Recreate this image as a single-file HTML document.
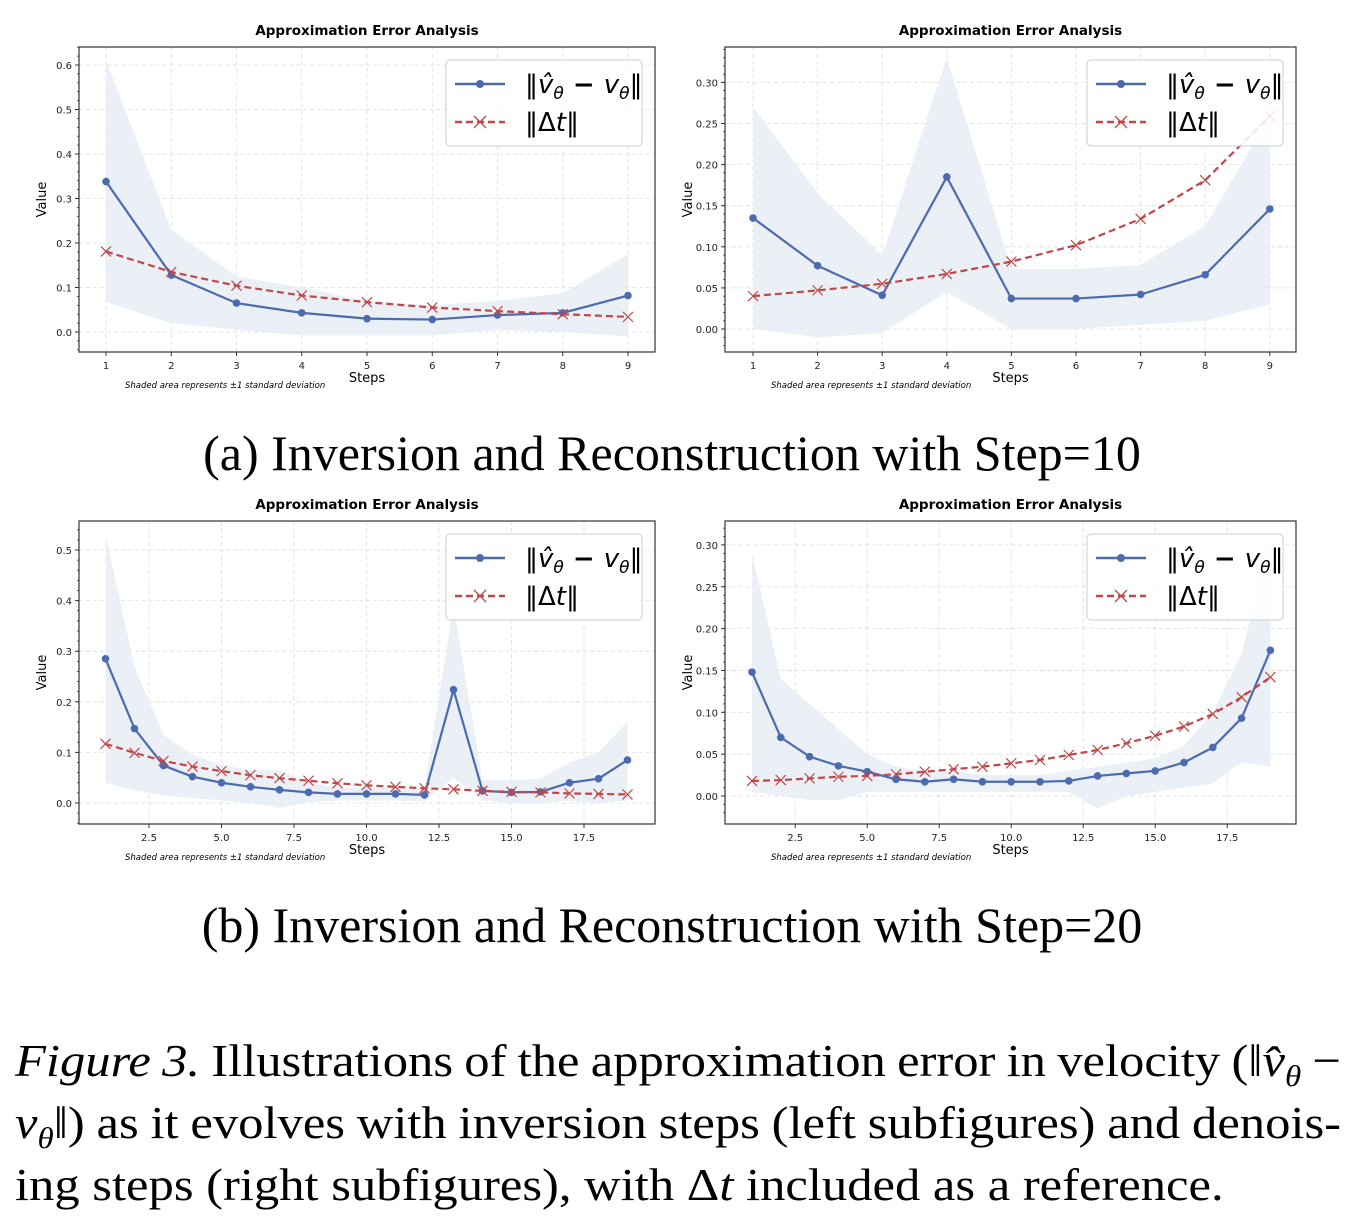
<!DOCTYPE html>
<html><head><meta charset="utf-8"><style>
body{margin:0;background:#fff;width:1358px;height:1218px;overflow:hidden;position:relative;font-family:"DejaVu Sans","Liberation Sans",sans-serif}
.cap{position:absolute;font-family:"Liberation Serif",serif;color:#000;white-space:nowrap}
.ln{display:block;height:62px;white-space:nowrap}
.ln span.in{display:inline-block;white-space:nowrap}
.sb{font-size:30px;position:relative;top:10px;line-height:0}
</style></head><body>
<svg id="fig" width="1358" height="960" style="position:absolute;left:0;top:0"></svg>
<div class="cap" style="left:0;width:1344px;text-align:center;top:424px;font-size:50px">(a) Inversion and Reconstruction with Step=10</div>
<div class="cap" style="left:0;width:1344px;text-align:center;top:896px;font-size:50px">(b) Inversion and Reconstruction with Step=20</div>
<div class="cap" id="figcap" style="left:15px;top:1030px;font-size:46px;line-height:62px;transform:scaleX(1.1);transform-origin:0 0">
<span class="ln"><span class="in fit"><i>Figure 3.</i> Illustrations of the approximation error in velocity (‖<i>v̂</i><span class="sb"><i>θ</i></span> −</span></span>
<span class="ln"><span class="in fit"><i>v</i><span class="sb"><i>θ</i></span>‖) as it evolves with inversion steps (left subfigures) and denois-</span></span>
<span class="ln"><span class="in">ing steps (right subfigures), with Δ<i>t</i> included as a reference.</span></span>
</div>
<script>
document.querySelectorAll('#figcap .fit').forEach(el=>{
  const target=1326/1.1;
  const w=el.getBoundingClientRect().width/1.1;
  const n=(el.textContent.match(/ /g)||[]).length;
  el.style.wordSpacing=((target-w)/n)+'px';
});
// chart A (top-left)
const xA=[1,2,3,4,5,6,7,8,9];
const vA=[.338,.128,.065,.043,.030,.028,.038,.043,.082];
const dA=[.181,.135,.104,.082,.067,.055,.047,.040,.034];
const upA=[.61,.23,.125,.10,.07,.06,.07,.087,.175];
const loA=[.067,.02,.005,-.008,-.008,-.008,.005,0,-.01];
const xtA=[1,2,3,4,5,6,7,8,9];
const ytA=[0,0.1,0.2,0.3,0.4,0.5,0.6];
// chart B (top-right)
const xB=[1,2,3,4,5,6,7,8,9];
const vB=[.135,.077,.041,.185,.037,.037,.042,.066,.146];
const dB=[.040,.047,.055,.067,.082,.102,.134,.181,.259];
const upB=[.27,.165,.09,.33,.073,.073,.078,.125,.26];
const loB=[0,-.01,-.005,.045,0,0,.005,.01,.03];
const xtB=[1,2,3,4,5,6,7,8,9];
const ytB=[0,0.05,0.10,0.15,0.20,0.25,0.30];
// chart C (bottom-left)
const xC=[1,2,3,4,5,6,7,8,9,10,11,12,13,14,15,16,17,18,19];
const vC=[.285,.147,.074,.052,.040,.032,.026,.021,.018,.018,.018,.016,.224,.024,.021,.022,.040,.048,.085];
const dC=[.117,.099,.083,.072,.063,.055,.049,.044,.039,.035,.032,.029,.027,.024,.022,.021,.019,.018,.017];
const upC=[.53,.27,.135,.095,.075,.065,.065,.04,.03,.03,.03,.03,.39,.045,.045,.048,.08,.10,.16];
const loC=[.04,.025,.015,.01,.005,0,-.01,.002,.005,.005,.005,.003,.05,.005,0,0,.005,0,.005];
const xtC=[2.5,5.0,7.5,10.0,12.5,15.0,17.5];
const ytC=[0,0.1,0.2,0.3,0.4,0.5];
// chart D (bottom-right)
const xD=[1,2,3,4,5,6,7,8,9,10,11,12,13,14,15,16,17,18,19];
const vD=[.148,.070,.047,.036,.029,.020,.017,.020,.017,.017,.017,.018,.024,.027,.030,.040,.058,.093,.174];
const dD=[.018,.019,.021,.023,.024,.026,.029,.032,.035,.039,.043,.049,.055,.063,.072,.083,.098,.118,.142];
const upD=[.29,.14,.11,.08,.05,.035,.03,.03,.025,.025,.025,.03,.035,.04,.045,.06,.10,.17,.31];
const loD=[.005,0,-.005,-.005,.005,.005,.005,.005,.005,.005,.005,.005,-.015,0,.005,.01,.015,.04,.035];
const xtD=[2.5,5.0,7.5,10.0,12.5,15.0,17.5];
const ytD=[0,0.05,0.10,0.15,0.20,0.25,0.30];

const NS='http://www.w3.org/2000/svg';
const svg=document.getElementById('fig');
function mk(tag,attrs,parent){const e=document.createElementNS(NS,tag);for(const k in attrs)e.setAttribute(k,attrs[k]);(parent||svg).appendChild(e);return e;}

function chart(id,box,xd,yd,xs,v,d,up,lo,xt,yt,ydec){
  const g=mk('g',{});
  
  
  const [L,T,R,B]=box;
  const X=x=>L+(x-xd[0])/(xd[1]-xd[0])*(R-L);
  const Y=y=>B-(y-yd[0])/(yd[1]-yd[0])*(B-T);
  const t=mk('text',{x:(L+R)/2,y:T-12,'text-anchor':'middle','font-size':13.5,'font-weight':'bold'},g);t.textContent='Approximation Error Analysis';
  
  
  xt.forEach(x=>{mk('line',{x1:X(x),x2:X(x),y1:T,y2:B,stroke:'#ddd','stroke-dasharray':'4,3','stroke-width':0.8},g);
    mk('line',{x1:X(x),x2:X(x),y1:B,y2:B+4,stroke:'#333'},g);
    const l=mk('text',{x:X(x),y:B+17,'text-anchor':'middle','font-size':10,fill:'#222'},g);l.textContent=ydec?x.toFixed(1):x;
    
    });
  const step=(yt[1]-yt[0])/5;
  for(let y=yt[0]-2*step;y<yd[1];y+=step){if(y>yd[0])mk('line',{x1:L-2,x2:L,y1:Y(y),y2:Y(y),stroke:'#333','stroke-width':0.8},g);}
  yt.forEach(y=>{mk('line',{x1:L,x2:R,y1:Y(y),y2:Y(y),stroke:'#ddd','stroke-dasharray':'4,3','stroke-width':0.8},g);
    mk('line',{x1:L-4,x2:L,y1:Y(y),y2:Y(y),stroke:'#333'},g);
    const l=mk('text',{x:L-7,y:Y(y)+4,'text-anchor':'end','font-size':10,fill:'#222'},g);l.textContent=yt[yt.length-1]<0.4?y.toFixed(2):y.toFixed(1);
    
    });
  let p='M'+xs.map((x,i)=>X(x)+','+Y(up[i])).join('L')+'L'+xs.map((x,i)=>X(x)+','+Y(lo[i])).reverse().join('L')+'Z';
  const band=mk('path',{d:p,fill:'#e8ecf4',opacity:0.85},g);
  
  
  const vl=mk('polyline',{points:xs.map((x,i)=>X(x)+','+Y(v[i])).join(' '),fill:'none',stroke:'#4c6baf','stroke-width':2.2},g);
  
  
  xs.forEach((x,i)=>{const c=mk('circle',{cx:X(x),cy:Y(v[i]),r:3.8,fill:'#4c6baf'},g);
    
    });
  const dl=mk('polyline',{points:xs.map((x,i)=>X(x)+','+Y(d[i])).join(' '),fill:'none',stroke:'#c04848','stroke-width':2.2,'stroke-dasharray':'7,4'},g);
  
  
  xs.forEach((x,i)=>{const cx=X(x),cy=Y(d[i]);const m=mk('path',{d:`M${cx-5},${cy-5}L${cx+5},${cy+5}M${cx-5},${cy+5}L${cx+5},${cy-5}`,stroke:'#c04848','stroke-width':1.2},g);
    
    });
  mk('rect',{x:L,y:T,width:R-L,height:B-T,fill:'none',stroke:'#333','stroke-width':1.2},g);
  const lg=mk('g',{},g);
  
  
  const lx=R-209,ly=T+13;
  mk('rect',{x:lx,y:ly,width:196,height:86,rx:4,fill:'#fff',stroke:'#ccc','fill-opacity':0.85},lg);
  mk('line',{x1:lx+9,x2:lx+59,y1:ly+24,y2:ly+24,stroke:'#4c6baf','stroke-width':2.5},lg);
  mk('circle',{cx:lx+34,cy:ly+24,r:4,fill:'#4c6baf'},lg);
  const t1=mk('text',{x:lx+79,y:ly+33,'font-size':26,'font-family':'DejaVu Sans'},lg);
  t1.innerHTML='‖<tspan font-style="italic">v̂</tspan><tspan font-size="17" dy="6" font-style="italic">θ</tspan><tspan dy="-6" font-weight="bold"> − </tspan><tspan font-style="italic">v</tspan><tspan font-size="17" dy="6" font-style="italic">θ</tspan><tspan dy="-6">‖</tspan>';
  mk('line',{x1:lx+9,x2:lx+59,y1:ly+62,y2:ly+62,stroke:'#c04848','stroke-width':2.5,'stroke-dasharray':'7,4'},lg);
  mk('path',{d:`M${lx+28},${ly+56}L${lx+40},${ly+68}M${lx+28},${ly+68}L${lx+40},${ly+56}`,stroke:'#c04848','stroke-width':1.3},lg);
  const t2=mk('text',{x:lx+79,y:ly+71,'font-size':26},lg);
  t2.innerHTML='‖Δ<tspan font-style="italic">t</tspan>‖';
  const ya=mk('text',{transform:`translate(${L-33},${(T+B)/2}) rotate(-90)`,'text-anchor':'middle','font-size':13},g);ya.textContent='Value';
  
  
  const xa=mk('text',{x:(L+R)/2,y:B+30,'text-anchor':'middle','font-size':13},g);xa.textContent='Steps';
  
  
  const nt=mk('text',{x:L+46,y:B+36,'font-size':8.5,'font-style':'italic'},g);nt.textContent='Shaded area represents ±1 standard deviation';
  
  
}
chart('chart-step10-inversion',[79,47,655,352],[1-27/65.25,1+549/65.25],[-20/445,285/445],xA,vA,dA,upA,loA,xtA,ytA,false);
chart('chart-step10-denoise',[725,47,1296,352],[1-28/64.6,1+543/64.6],[-23/822,282/822],xB,vB,dB,upB,loB,xtB,ytB,false);
chart('chart-step20-inversion',[79,521,655,824],[1-26.5/29,1+549.5/29],[-21/506,282/506],xC,vC,dC,upC,loC,xtC,ytC,true);
chart('chart-step20-denoise',[725,521,1296,824],[1-27/28.8,1+544/28.8],[-28/837,275/837],xD,vD,dD,upD,loD,xtD,ytD,true);
</script>
</body></html>
